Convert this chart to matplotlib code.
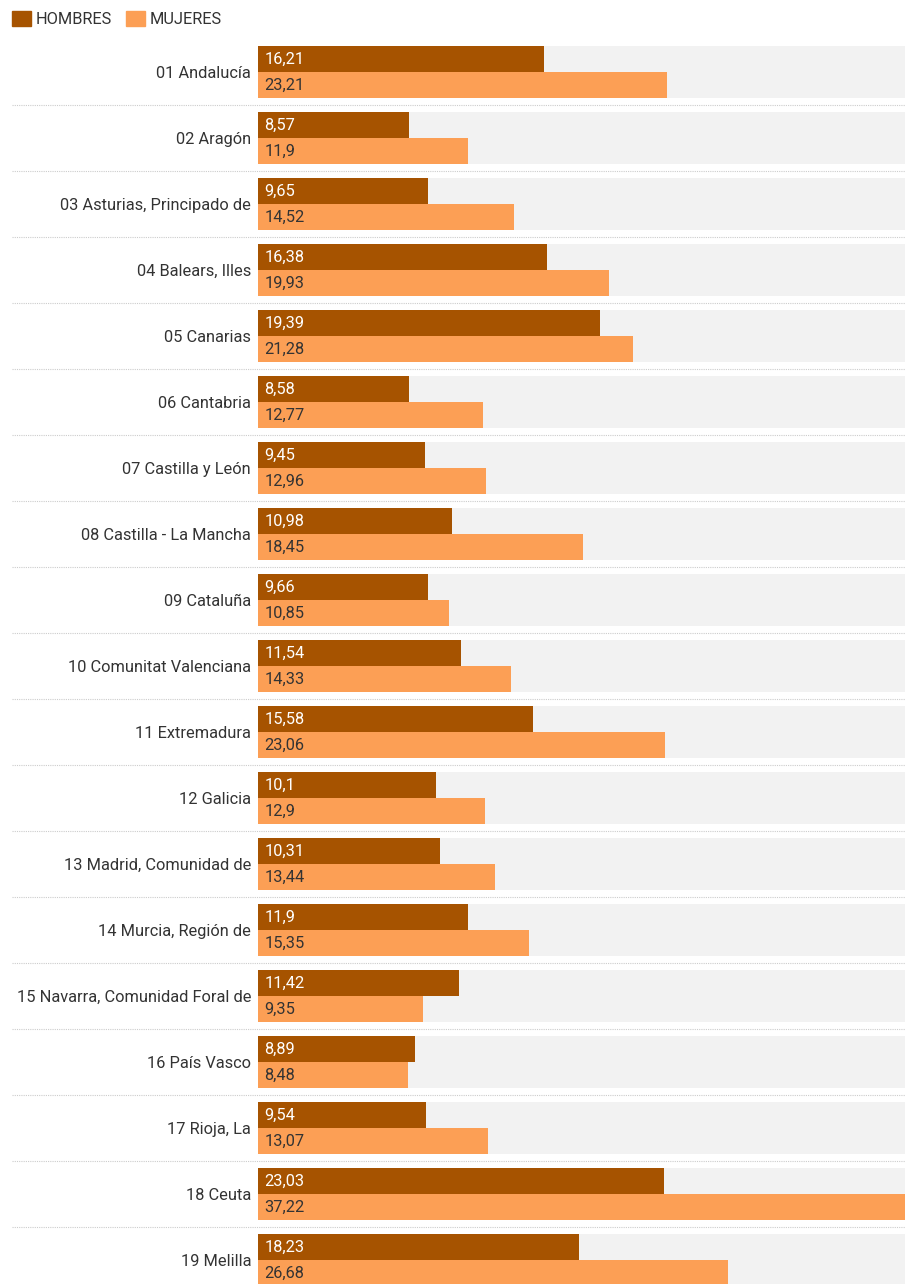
import numpy as np
import matplotlib.pyplot as plt
from matplotlib.patches import Patch

plt.rcParams['font.family'] = ['Roboto', 'DejaVu Sans']

# Datos
regiones = ['01 Andalucía', '02 Aragón', '03 Asturias, Principado de', '04 Balears, Illes',
            '05 Canarias', '06 Cantabria', '07 Castilla y León', '08 Castilla - La Mancha',
            '09 Cataluña', '10 Comunitat Valenciana', '11 Extremadura', '12 Galicia',
            '13 Madrid, Comunidad de', '14 Murcia, Región de', '15 Navarra, Comunidad Foral de',
            '16 País Vasco', '17 Rioja, La', '18 Ceuta', '19 Melilla']
hombres = [16.21, 8.57, 9.65, 16.38, 19.39, 8.58, 9.45, 10.98, 9.66, 11.54,
           15.58, 10.1, 10.31, 11.9, 11.42, 8.89, 9.54, 23.03, 18.23]
mujeres = [23.21, 11.9, 14.52, 19.93, 21.28, 12.77, 12.96, 18.45, 10.85, 14.33,
           23.06, 12.9, 13.44, 15.35, 9.35, 8.48, 13.07, 37.22, 26.68]

c_h = '#a65300'
c_m = '#fc9f55'
txt = '#333333'
fs = 11.8

W, H = 905, 1284
fig = plt.figure(figsize=(W / 100, H / 100), dpi=100)
x0 = 258
ax = fig.add_axes([x0 / W, 0, 1 - x0 / W, 1])
ax.set_facecolor('none')

n = len(regiones)
y = np.arange(n)
pitch = 66.0
bh = 26 / pitch
top = 46
ymin = -bh - top / pitch
ymax = -bh + (H - top) / pitch
ax.set_ylim(ymax, ymin)
xmax = (W - x0) / 17.63
ax.set_xlim(0, xmax)

for yi in y:
    ax.axhspan(yi - bh, yi + bh, color='#f2f2f2', lw=0, zorder=0)

ax.barh(y - bh / 2, hombres, height=bh, color=c_h, zorder=2)
ax.barh(y + bh / 2, mujeres, height=bh, color=c_m, zorder=2)

fmt = lambda v: ('%g' % v).replace('.', ',')
for yi, h, m in zip(y, hombres, mujeres):
    ax.annotate(fmt(h), xy=(0, yi - bh / 2), xytext=(4.5, 0), textcoords='offset points',
                va='center', ha='left', color='white', fontsize=fs, zorder=3)
    ax.annotate(fmt(m), xy=(0, yi + bh / 2), xytext=(4.5, 0), textcoords='offset points',
                va='center', ha='left', color=txt, fontsize=fs, zorder=3)

# separadores punteados
sep = y[:-1] + 0.5
ax.hlines(sep, (12 - x0) / (W - x0), 1, transform=ax.get_yaxis_transform(),
          colors='#cccccc', linestyles=(0, (1, 1)), lw=0.8, clip_on=False)

ax.set_yticks(y)
ax.set_yticklabels(regiones, fontsize=fs, color=txt)
ax.tick_params(axis='y', length=0, pad=5)
ax.set_xticks([])
for s in ax.spines.values():
    s.set_visible(False)

handles = [Patch(color=c_h, label='HOMBRES'), Patch(color=c_m, label='MUJERES')]
fig.legend(handles=handles, loc='upper left', bbox_to_anchor=(12 / W, 1 - 11 / H), ncol=2,
           frameon=False, fontsize=fs, handlelength=1.16, handleheight=1.04,
           handletextpad=0.3, columnspacing=0.85, labelcolor=txt,
           borderpad=0, borderaxespad=0)

fig.savefig('out.png', dpi=100)
